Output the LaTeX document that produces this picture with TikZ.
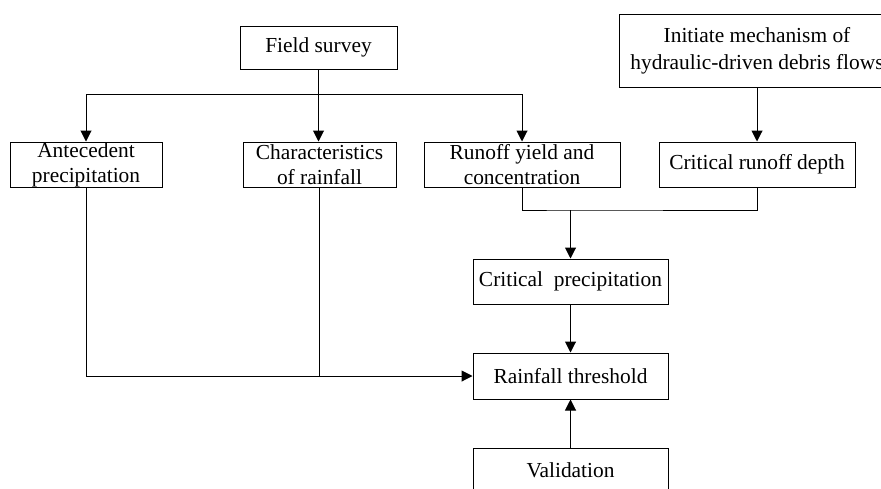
\documentclass[tikz,border=0pt]{standalone}
\usepackage{fontspec}
\setmainfont{Liberation Serif}
\usetikzlibrary{arrows.meta}
\begin{document}
\begin{tikzpicture}[x=0.5pt,y=-0.5pt,
  box/.style={draw, line width=0.5pt, inner sep=0pt, align=center,
    font=\fontsize{10.7}{12.6}\selectfont, minimum height=22.5pt},
  arr/.style={-{Triangle[width=5.5pt,length=5.5pt]}, line width=0.5pt},
  ln/.style={line width=0.5pt}]
\useasboundingbox (0,0) rectangle (881,488);
\node[box, minimum width=78.5pt, minimum height=21.5pt] (fs) at (318.5,47.5) {Field survey};
\node[box, minimum width=138pt, minimum height=36.5pt, font=\fontsize{10.7}{13.5}\selectfont] (init) at (757,50.5) {Initiate mechanism of\\hydraulic-driven debris flows};
\node[box, minimum width=76pt] (ante) at (86,164.5) {Antecedent\\precipitation};
\node[box, minimum width=76.5pt] (char) at (319.5,164.5) {Characteristics\\of rainfall};
\node[box, minimum width=98pt] (runoff) at (522,164.5) {Runoff yield and\\concentration};
\node[box, minimum width=98pt] (crd) at (757,164.5) {Critical runoff depth};
\node[box, minimum width=97.5pt] (cp) at (570.5,281.5) {Critical\ \ precipitation};
\node[box, minimum width=97.5pt, minimum height=23pt] (rt) at (570.5,376) {Rainfall threshold};
\node[box, minimum width=97.5pt] (val) at (570.5,470.5) {Validation};
\coordinate (fork) at (318.5,94);
\coordinate (join) at (570.5,210);
\draw[ln] (fs.south) -- (fork);
\draw[arr] (fork) -| (ante.north);
\draw[arr] (fork) -| (runoff.north);
\draw[arr] (fork) -- (fork |- char.north);
\draw[arr] (init.south) -- (crd.north);
\draw[ln] (runoff.south) |- (join) -| (crd.south);
\draw[arr] (join) -- (cp.north);
\draw[arr] (cp.south) -- (rt.north);
\draw[arr] (val.north) -- (rt.south);
\draw[arr] (ante.south) |- (rt.west);
\draw[ln] (char.south) -- (char.south |- rt.west);
\end{tikzpicture}
\end{document}
